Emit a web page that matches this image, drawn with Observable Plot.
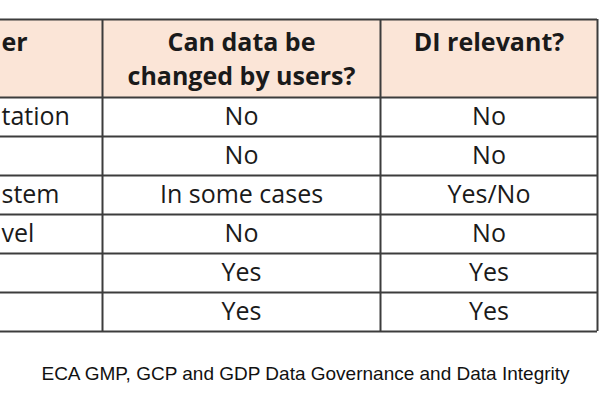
<!DOCTYPE html>
<html>
<head>
<meta charset="utf-8">
<script src="https://cdn.jsdelivr.net/npm/d3@7"></script>
<script src="https://cdn.jsdelivr.net/npm/@observablehq/plot@0.6"></script>
<style>
  html, body { margin: 0; padding: 0; background: #ffffff; }
  #chart svg { display: block; }
</style>
</head>
<body>
<div id="chart"></div>
<script>
// ---- data ----
const headerTexts = ["er", "Can data be\nchanged by users?", "DI relevant?"];
const rowLabels = ["tation", "", "stem", "vel", "", ""];
const canBeChanged = ["No", "No", "In some cases", "No", "Yes", "Yes"];
const diRelevant = ["No", "No", "Yes/No", "No", "Yes", "Yes"];
const caption = "ECA GMP, GCP and GDP Data Governance and Data Integrity";

// ---- layout ----
const W = 600, H = 400;
const colEdges = [-60, 102, 380, 597];
const headerTop = 19, headerBottom = 97, rowH = 39;
const tableFont = "'Open Sans', Lato, sans-serif";
const border = "#3c3c3c";
const ink = "#1a1a1a";

const nRows = rowLabels.length;
const rowTop = i => headerBottom + i * rowH;
const hLines = [headerTop, headerBottom, ...d3.range(1, nRows + 1).map(rowTop)];
const vLines = colEdges.slice(1);

const headerCells = headerTexts.map((t, c) => ({
  x1: colEdges[c], x2: colEdges[c + 1], y1: headerTop, y2: headerBottom, text: t, col: c,
  x: c === 0 ? 1 : (colEdges[c] + colEdges[c + 1]) / 2
}));

const bodyCells = [];
rowLabels.forEach((lab, r) => {
  [lab, canBeChanged[r], diRelevant[r]].forEach((t, c) => {
    bodyCells.push({row: r, col: c, text: t,
      x: c === 0 ? 1 : (colEdges[c] + colEdges[c + 1]) / 2,
      y: rowTop(r) + rowH / 2});
  });
});
const firstCol = d => d.col === 0;
const otherCol = d => d.col !== 0;

const headerText = {
  x: "x", y: headerTop + 8, text: "text",
  lineAnchor: "top", lineHeight: 1.34,
  fontSize: 25, fontWeight: "bold", fontFamily: tableFont, fill: ink
};
const bodyText = {
  x: "x", y: "y", text: "text",
  fontSize: 25, fontFamily: tableFont, fill: ink
};

const chart = Plot.plot({
  width: W, height: H, margin: 0,
  style: {background: "#ffffff"},
  x: {type: "linear", domain: [0, W], range: [0, W], axis: null},
  y: {type: "linear", domain: [0, H], range: [0, H], axis: null},
  marks: [
    Plot.rect(headerCells, {x1: "x1", x2: "x2", y1: "y1", y2: "y2", fill: "#fbe5d7"}),
    Plot.ruleY(hLines, {y: d => d, x1: 0, x2: colEdges[3], stroke: border, strokeWidth: 2}),
    Plot.ruleX(vLines, {x: d => d, y1: headerTop, y2: rowTop(nRows), stroke: border, strokeWidth: 2}),
    Plot.text(headerCells, {...headerText, filter: firstCol, textAnchor: "start"}),
    Plot.text(headerCells, {...headerText, filter: otherCol, textAnchor: "middle"}),
    Plot.text(bodyCells, {...bodyText, filter: firstCol, textAnchor: "start"}),
    Plot.text(bodyCells, {...bodyText, filter: otherCol, textAnchor: "middle"}),
    Plot.text([caption], {
      x: 305, y: 373, text: d => d,
      fontSize: 19, fontFamily: "'Liberation Sans', Arial, sans-serif", fill: "#111",
      textAnchor: "middle"
    })
  ]
});
document.getElementById("chart").append(chart);
</script>
</body>
</html>
